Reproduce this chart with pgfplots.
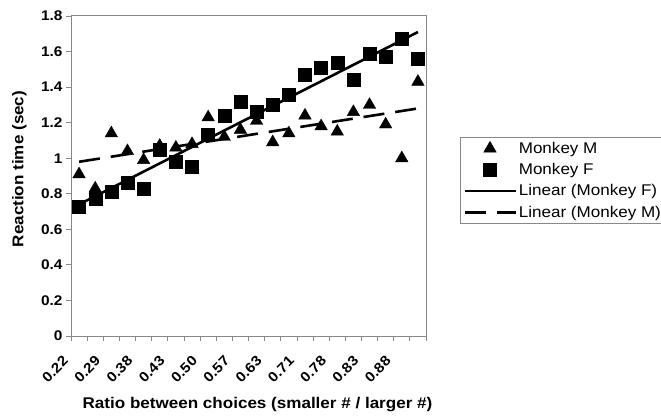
\documentclass[border=0pt]{standalone}
\usepackage{fontspec}
\setmainfont{Liberation Sans}[FakeStretch=1.1]
\usepackage{pgfplots}
\pgfplotsset{compat=1.18}
\definecolor{axgray}{RGB}{136,136,136}
\pgfplotstableread{
x M F
1 0.91 0.73
2 0.83 0.77
3 1.14 0.81
4 1.04 0.86
5 0.99 0.83
6 1.07 1.05
7 1.06 0.98
8 1.08 0.95
9 1.23 1.13
10 1.12 1.24
11 1.16 1.32
12 1.21 1.26
13 1.09 1.30
14 1.14 1.36
15 1.24 1.47
16 1.18 1.51
17 1.15 1.54
18 1.26 1.44
19 1.30 1.59
20 1.19 1.57
21 1.00 1.67
22 1.43 1.56
}\datatable
\begin{document}
\begin{tikzpicture}[x=1pt,y=1pt]
\path[use as bounding box] (0,0) rectangle (661,418);
\begin{axis}[
 at={(71pt,82pt)}, anchor=south west, scale only axis, width=355pt, height=320pt,
 xmin=0.5, xmax=22.5, ymin=0, ymax=1.8,
 axis line style={axgray, line width=1pt},
 tick align=outside, tick pos=left,
 xtick={0.5,1.5,...,22.5},
 xticklabels={},
 extra x ticks={1,3,...,21},
 extra x tick labels={0.22,0.29,0.38,0.43,0.50,0.57,0.63,0.71,0.78,0.83,0.88},
 extra x tick style={major tick length=0pt, tick label style={xshift=-17pt, yshift=-14pt, rotate=45, anchor=north east}},
 ytick={0,0.2,0.4,0.6,0.8,1,1.2,1.4,1.6,1.8},
 yticklabels={0,0.2,0.4,0.6,0.8,1,1.2,1.4,1.6,1.8},
 tick style={axgray, line width=0.8pt},
 major tick length=5pt,
 /pgf/number format/assume math mode=true,
 tick label style={font=\fontsize{14}{16}\selectfont\bfseries},
 legend style={at={(axis description cs:1.0958,0.622)}, anchor=north west, draw=axgray, font=\fontsize{15.5}{17.5}\selectfont, row sep=4.5pt, inner ysep=3pt},
 legend cell align=left,
 legend image code/.code={\draw[mark repeat=2, mark phase=2] plot coordinates {(0pt,0pt) (25.5pt,0pt) (51pt,0pt)};},
]
\addplot[only marks, mark=triangle*, mark size=7.2pt, black] table[x=x,y=M]{\datatable};
\addlegendentry{Monkey M}
\addplot[only marks, mark=square*, mark size=6.5pt, black] table[x=x,y=F]{\datatable};
\addlegendentry{Monkey F}
\addplot[black, line width=2.6pt, no marks] coordinates {(1,0.74) (22,1.71)};
\addlegendentry{Linear (Monkey F)}
\addplot[black, line width=2.6pt, no marks, dash pattern=on 21pt off 11pt] coordinates {(1,0.98) (22,1.28)};
\addlegendentry{Linear (Monkey M)}
\end{axis}
\node[anchor=base, font=\fontsize{15.5}{17}\selectfont\bfseries] at (257.5,10) {Ratio between choices (smaller \# / larger \#)};
\node[anchor=base, rotate=90, font=\fontsize{15.5}{17}\selectfont\bfseries] at (23.3,249) {Reaction time (sec)};
\end{tikzpicture}
\end{document}
